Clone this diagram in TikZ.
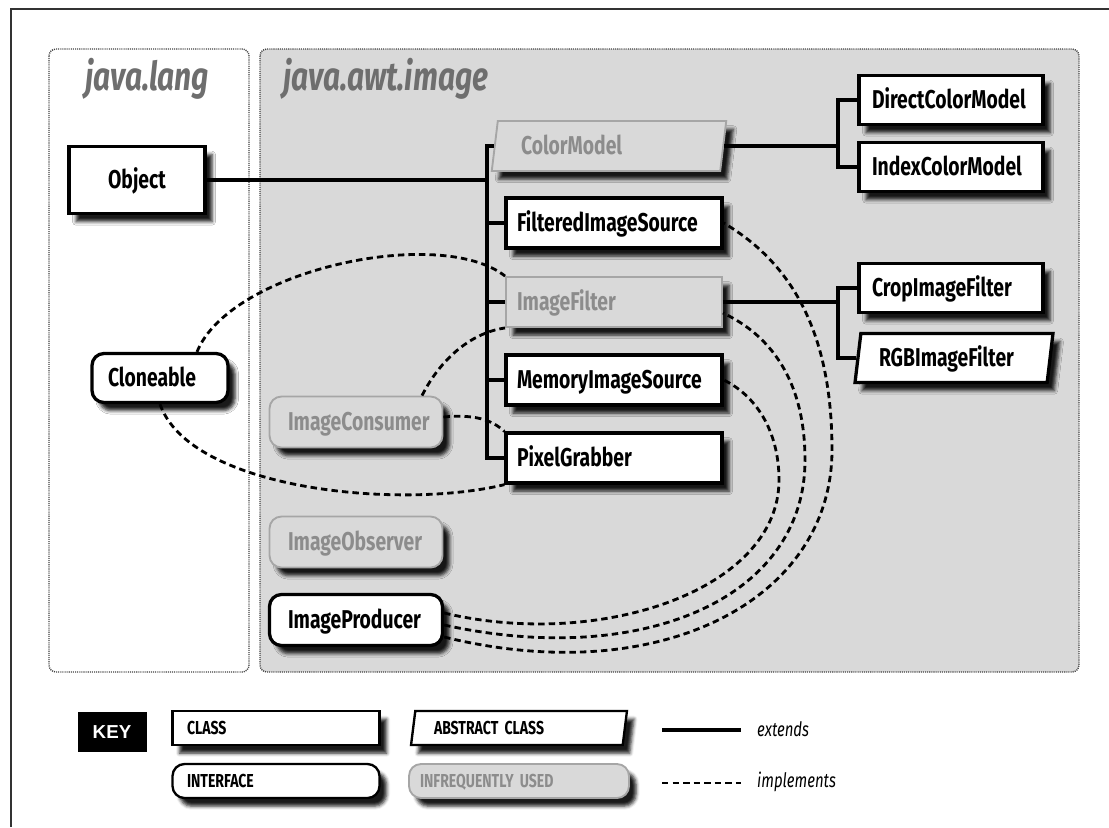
\documentclass[tikz,border=0pt]{standalone}
\usepackage{fontspec}
\setmainfont{Fira Sans}
\newfontfamily\cond{Fira Sans}[FakeStretch=0.75]
\newfontfamily\keyfont{Liberation Sans}
\usetikzlibrary{shapes.geometric,shadows.blur,calc}

\newlength{\pxu}
\setlength{\pxu}{0.03cm}

\definecolor{panelgray}{HTML}{D9D9D9}
\definecolor{titlegray}{HTML}{6E6E6E}
\definecolor{rareline}{HTML}{A6A6A6}
\definecolor{raretext}{HTML}{8C8C8C}

\tikzstyle{shd} = [blur shadow={shadow xshift=6pt, shadow yshift=-7pt, shadow blur radius=3pt, shadow opacity=90}]
\tikzstyle{cls} = [draw=black, line width=2.8pt, fill=white, shd, align=left, inner xsep=11\pxu, inner ysep=0pt, minimum width=216\pxu, minimum height=50\pxu, text width=194\pxu, text height=15pt, text depth=0pt, font=\cond\bfseries\fontsize{22}{24}\selectfont]
\tikzstyle{iface} = [cls, rounded corners=12\pxu]
\tikzstyle{abst} = [cls, trapezium, trapezium left angle=73, trapezium right angle=107, trapezium stretches=true]
\tikzstyle{rare} = [draw=rareline, line width=1.6pt, fill=panelgray, text=raretext]
\tikzstyle{lgd} = [line width=2pt, minimum height=34\pxu, text height=11pt, font=\cond\bfseries\fontsize{16}{18}\selectfont]
\tikzstyle{keybox} = [fill=black, text=white, minimum width=69\pxu, minimum height=40\pxu, inner sep=0pt, font=\keyfont\bfseries\fontsize{16}{18}\selectfont]
\tikzstyle{ext} = [line width=2.6pt]
\tikzstyle{impl} = [line width=2.4pt, dash pattern=on 5.5pt off 3.5pt]
\tikzstyle{panel} = [draw=black!75, line width=1.2pt, dash pattern=on 0.9pt off 0.9pt, rounded corners=7\pxu]
\tikzstyle{title} = [text=titlegray, inner sep=0pt, font=\cond\bfseries\itshape\fontsize{34}{36}\selectfont]
\tikzstyle{note} = [inner sep=0pt, anchor=west, font=\cond\itshape\fontsize{17}{19}\selectfont]

\begin{document}
\begin{tikzpicture}[x=0.03cm, y=-0.03cm]
      \useasboundingbox (0,0) rectangle (1109,827);
      \draw[line width=1.8pt, black!80] (11,827) -- (11,9) -- (1109,9);
      \draw[panel, fill=white] (49,49) rectangle (249,672);
      \draw[panel, fill=panelgray] (260,49) rectangle (1079,672);
      \node[title, anchor=base] (tlang) at (147,90) {java.lang};
      \node[title, anchor=base west] (tawt) at (283,90) {java.awt.image};

      \node[cls, align=center, minimum width=136\pxu, minimum height=67\pxu, text width=114\pxu] (obj) at (137,180) {Object};
      \node[iface, minimum width=136\pxu, minimum height=49\pxu, text width=104\pxu] (cln) at (160,378) {Cloneable};
      \node[abst, rare, minimum width=235\pxu, text width=176\pxu] (cm) at (609,146) {ColorModel};
      \node[cls] (fis) at (614,223) {FilteredImageSource};
      \node[cls, rare] (if) at (614,302) {ImageFilter};
      \node[cls] (mis) at (614,380) {MemoryImageSource};
      \node[cls] (pg) at (614,458) {PixelGrabber};
      \node[cls, minimum width=184\pxu, minimum height=49\pxu, text width=158\pxu] (dcm) at (951,100) {DirectColorModel};
      \node[cls, minimum width=184\pxu, minimum height=49\pxu, text width=158\pxu] (icm) at (951,167) {IndexColorModel};
      \node[cls, minimum width=184\pxu, minimum height=49\pxu, text width=158\pxu] (cif) at (951,288) {CropImageFilter};
      \node[abst, minimum width=198\pxu, minimum height=49\pxu, text width=150\pxu] (rgb) at (954,358) {RGBImageFilter};
      \node[iface, rare, minimum width=173\pxu, minimum height=51\pxu, text width=136\pxu] (ic) at (356,422) {ImageConsumer};
      \node[iface, rare, minimum width=173\pxu, minimum height=51\pxu, text width=136\pxu] (io) at (356,542) {ImageObserver};
      \node[iface, minimum width=173\pxu, minimum height=51\pxu, text width=136\pxu] (ip) at (356,620) {ImageProducer};

      \coordinate (t1) at (487,0);
      \coordinate (t2) at (838,0);
      \draw[ext] (obj.east) -- (obj.east -| t1);
      \draw[ext] (cm.west) -- (cm.west -| t1) -- (pg.west -| t1) -- (pg.west);
      \foreach \n in {fis,if,mis} \draw[ext] (\n.west) -- (\n.west -| t1);
      \draw[ext] (cm.east) -- (cm.east -| t2);
      \draw[ext] (dcm.west) -- (dcm.west -| t2) -- (icm.west -| t2) -- (icm.west);
      \draw[ext] (if.east) -- (if.east -| t2);
      \draw[ext] (cif.west) -- (cif.west -| t2) -- (rgb.west -| t2) -- (rgb.west);

      \draw[impl] ($(cln.north)+(37,0)$) .. controls (230,270) and (440,225) .. (if.north west);
      \draw[impl] (cln.south) .. controls (190,490) and (400,510) .. (pg.south west);
      \draw[impl] ($(ic.north)+(66,0)$) .. controls (440,360) and (470,333) .. (if.south west);
      \draw[impl] ($(ic.east)+(0,-5)$) .. controls (475,414) and (492,420) .. (pg.north west);
      \draw[impl] ($(ip.east)+(0,-7)$) .. controls (600,650) and (779,590) .. (779,480) .. controls (779,430) and (755,395) .. (mis.east);
      \draw[impl] ($(ip.east)+(0,5)$) .. controls (640,668) and (805,600) .. (805,460) .. controls (805,380) and (770,335) .. ($(if.east)+(0,11)$);
      \draw[impl] ($(ip.east)+(0,17)$) .. controls (660,690) and (832,600) .. (832,450) .. controls (832,330) and (790,262) .. (fis.east);

      \node[keybox] (key) at (112,732) {KEY};
      \node[cls, lgd, minimum width=207\pxu, text width=178\pxu] (lcls) at (276,728) {CLASS};
      \node[iface, lgd, minimum width=207\pxu, text width=178\pxu] (lint) at (276,781) {INTERFACE};
      \node[abst, lgd, minimum width=216\pxu, text width=170\pxu] (labs) at (519,728) {ABSTRACT CLASS};
      \node[iface, lgd, rare, minimum width=216\pxu, text width=198\pxu] (lrare) at (519,781) {INFREQUENTLY USED};
      \node[note] (lext) at (757,729) {extends};
      \node[note] (limp) at (757,782) {implements};
      \coordinate (e0) at (662,730);
      \coordinate (e1) at (741,730);
      \coordinate (i0) at (662,783);
      \coordinate (i1) at (741,783);
      \draw[ext] (e0) -- (e1);
      \draw[impl] (i0) -- (i1);
    \end{tikzpicture}
\end{document}
